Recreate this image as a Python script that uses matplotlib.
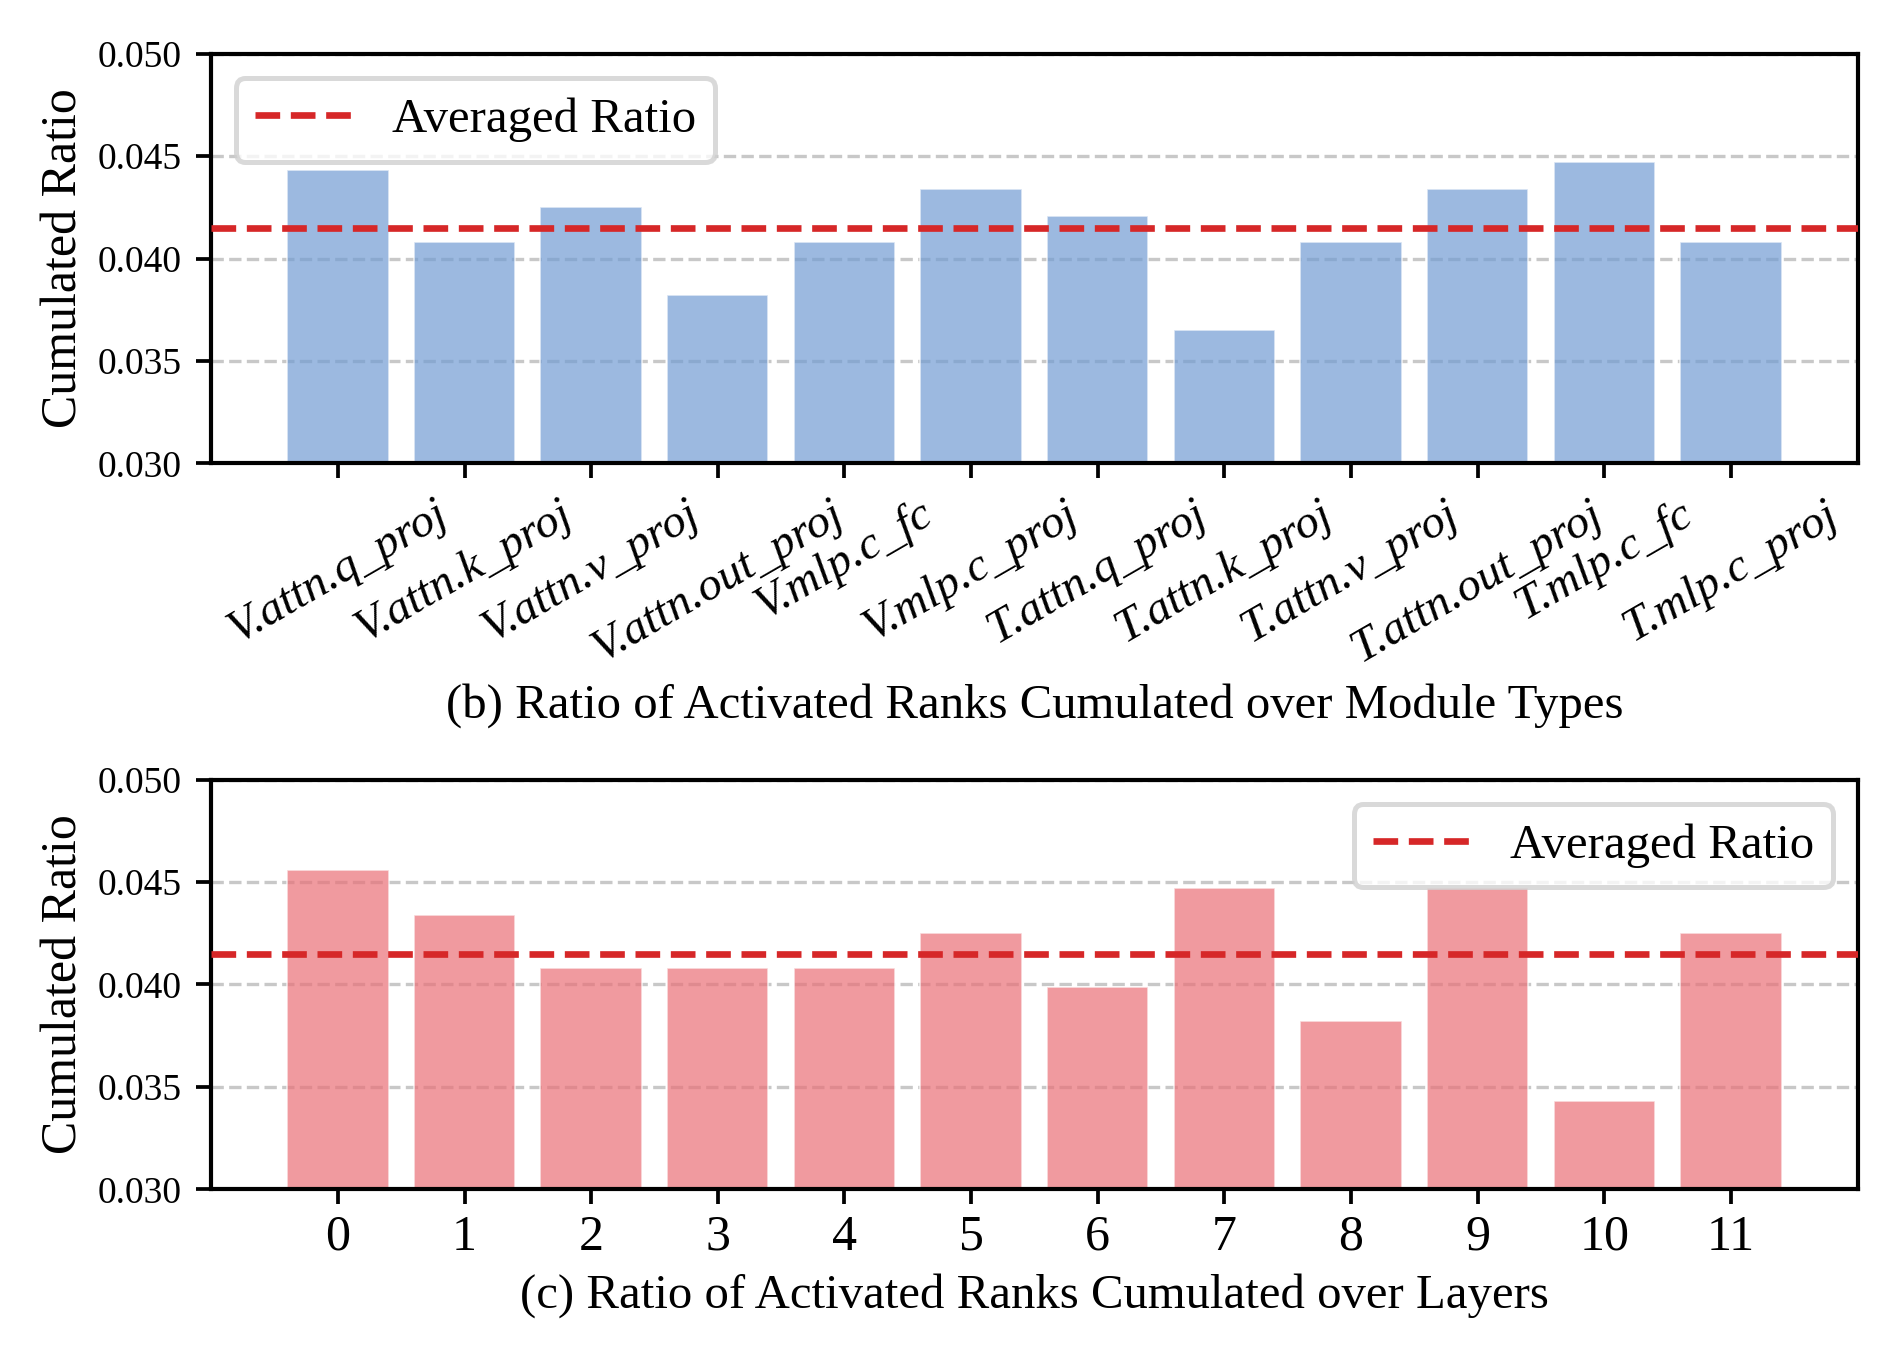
import numpy as np
import matplotlib
matplotlib.use("Agg")
import matplotlib.pyplot as plt

plt.rcParams['font.family'] = ['Liberation Serif', 'DejaVu Serif']

# module types (panel b)
modules = ['V.attn.q_proj', 'V.attn.k_proj', 'V.attn.v_proj', 'V.attn.out_proj',
           'V.mlp.c_fc', 'V.mlp.c_proj', 'T.attn.q_proj', 'T.attn.k_proj',
           'T.attn.v_proj', 'T.attn.out_proj', 'T.mlp.c_fc', 'T.mlp.c_proj']
module_ratio = [0.0443, 0.0408, 0.0425, 0.0382, 0.0408, 0.0434,
                0.0421, 0.0365, 0.0408, 0.0434, 0.0447, 0.0408]

# layers (panel c)
layers = [str(i) for i in range(12)]
layer_ratio = [0.0456, 0.0434, 0.0408, 0.0408, 0.0408, 0.0425,
               0.0399, 0.0447, 0.0382, 0.0447, 0.0343, 0.0425]

avg_ratio = 0.0415
yticks = [0.030, 0.035, 0.040, 0.045, 0.050]

fig = plt.figure(figsize=(1903 / 300, 1359 / 300), dpi=300)
ax1 = fig.add_axes([0.111, 0.659, 0.8651, 0.3015])
ax2 = fig.add_axes([0.111, 0.1248, 0.8651, 0.3016])


def draw(ax, labels, vals, color, title, loc, rot):
    x = np.arange(len(vals))
    ax.grid(axis='y', linestyle='--', color='#c8c8c8', linewidth=0.8, zorder=0)
    ax.bar(x, vals, width=0.8, color=color, alpha=0.7, edgecolor='white',
           linewidth=0.4, zorder=2)
    ax.axhline(avg_ratio, color='#d62728', linestyle='--', linewidth=1.6,
               label='Averaged Ratio', zorder=3)
    ax.set_xlim(-1, 12)
    ax.set_ylim(0.030, 0.050)
    ax.set_yticks(yticks)
    ax.set_yticklabels(['%.3f' % v for v in yticks], fontsize=9)
    ax.set_xticks(x)
    if rot:
        ax.set_xticklabels(labels, rotation=30, ha='center', fontsize=11.4,
                           fontstyle='italic')
        ax.tick_params(axis='x', pad=3.5)
    else:
        ax.set_xticklabels(labels, fontsize=12)
        ax.tick_params(axis='x', pad=2.5)
    ax.set_ylabel('Cumulated Ratio', fontsize=12, labelpad=2.5)
    ax.set_xlabel(title, fontsize=11.7, labelpad=3)
    for s in ax.spines.values():
        s.set_linewidth(1.0)
    ax.tick_params(length=3.5, width=0.9)
    leg = ax.legend(loc=loc, fontsize=11.7, fancybox=True, framealpha=0.8,
                    borderpad=0.4, handlelength=2.0)
    leg.get_frame().set_edgecolor('#d0d0d0')
    leg.get_frame().set_linewidth(1.2)


draw(ax1, modules, module_ratio, '#729cd3',
     '(b) Ratio of Activated Ranks Cumulated over Module Types', 'upper left', True)
draw(ax2, layers, layer_ratio, '#ea7077',
     '(c) Ratio of Activated Ranks Cumulated over Layers', 'upper right', False)

fig.savefig('out.png', dpi=300)
